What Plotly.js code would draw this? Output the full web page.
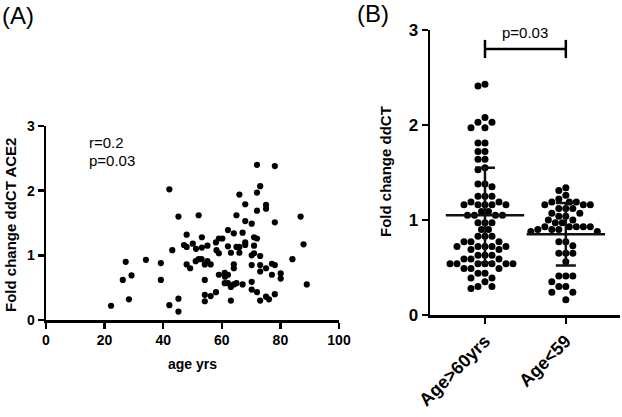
<!DOCTYPE html>
<html><head><meta charset="utf-8">
<script src="https://cdn.plot.ly/plotly-3.0.1.min.js"></script>
<style>html,body{margin:0;padding:0;background:#fff}#chart{width:622px;height:417px}</style>
</head><body><div id="chart"></div>
<script>
// ---- data ----
const ageYrs = [22.2,26.2,27.2,28.3,29.2,34.1,39.2,39.2,42.1,42.1,43.1,45.2,45.2,45.2,47.1,48.0,48.0,48.0,49.2,50.1,
  51.2,52.1,51.1,53.2,53.2,52.1,53.1,54.2,54.2,54.2,54.2,55.1,55.1,56.2,56.2,58.0,58.0,58.2,59.0,59.0,
  59.0,60.2,61.0,61.0,61.1,62.1,62.1,62.1,62.1,63.1,63.1,63.1,64.1,64.1,64.1,64.1,65.0,65.0,65.0,66.0,
  66.0,66.0,67.1,67.1,68.0,68.0,68.0,68.0,70.2,70.2,70.2,70.2,70.2,71.0,71.0,71.0,72.0,72.0,72.0,72.0,
  72.0,73.1,73.1,73.1,73.1,73.1,75.1,75.1,75.1,75.1,76.1,77.1,77.1,78.1,78.1,78.1,78.1,80.1,80.1,84.1,
  86.9,87.9,89.0];
const foldChangeACE2 = [0.22,0.62,0.90,0.32,0.69,0.93,0.88,0.62,2.02,0.23,1.08,1.60,0.33,0.13,1.16,1.32,1.13,0.86,0.80,1.18,
  1.10,1.62,0.91,1.28,1.12,0.94,0.94,0.86,0.62,0.39,0.29,1.15,0.91,0.86,0.37,0.43,1.20,1.08,1.26,1.03,
  0.70,1.26,0.73,0.57,0.67,1.39,1.14,0.70,0.57,1.04,0.51,0.30,1.34,0.86,0.80,0.55,1.62,1.13,0.57,1.94,
  1.13,1.04,1.35,0.55,1.79,1.53,1.20,1.16,1.49,1.00,0.85,0.59,0.47,1.28,1.15,1.03,2.40,1.97,1.69,1.26,
  0.43,2.07,0.99,0.85,0.75,0.30,1.78,1.72,0.80,0.36,0.32,0.87,0.70,2.38,1.51,0.85,0.40,0.72,0.64,0.94,
  1.60,1.17,0.55];
const corrLabels = ['r=0.2', 'p=0.03'];

const groupLabels = ['Age>60yrs', 'Age<59'];
const foldOver60 = [2.41,2.43,2.08,2.03,2.03,1.97,1.97,1.81,1.81,1.72,1.72,1.64,1.64,1.55,1.53,1.38,1.38,1.35,
  1.25,1.25,1.25,1.19,1.19,1.16,1.16,1.16,1.16,1.16,1.09,1.09,1.05,1.05,1.05,1.05,0.97,0.97,0.97,0.90,0.90,
  0.83,0.83,0.83,0.77,0.77,0.77,0.72,0.72,0.72,0.72,0.72,0.69,0.69,0.63,0.63,0.63,0.59,0.59,0.59,
  0.54,0.54,0.54,0.54,0.54,0.54,0.54,0.49,0.49,0.49,0.44,0.44,0.39,0.39,0.35,0.30,0.30,0.28];
const foldUnder59 = [1.34,1.31,1.26,1.22,1.19,1.19,1.19,1.16,1.16,1.16,1.12,1.12,1.12,1.07,1.07,1.04,1.04,
  1.00,1.00,0.97,0.97,0.93,0.93,0.93,0.93,0.93,0.90,0.90,0.90,0.88,0.88,0.77,0.77,0.73,0.65,0.65,0.65,
  0.56,0.41,0.41,0.41,0.35,0.30,0.30,0.24,0.24,0.16];
const groupMeans = [1.05, 0.85];
const groupSD = [0.50, 0.33];
const pValueText = 'p=0.03';
const bracketLevel = 2.8;

// ---- layout geometry ----
const W = 622, H = 417;
const px = v => v / W, py = v => 1 - v / H;
const FONT = 'Liberation Sans, Arial, Helvetica, sans-serif';
const bold = (s) => ({family: FONT, size: s, color: '#000', weight: 700});
const reg = (s) => ({family: FONT, size: s, color: '#000'});

const rightX = [430, 620], rightRange = [-0.68, 1.67];
const rightY = [30, 315];
const pxPerX2 = (rightX[1] - rightX[0]) / (rightRange[1] - rightRange[0]);
const pxPerY2 = (rightY[1] - rightY[0]) / 3;

// deterministic beeswarm offsets computed from the values
function swarm(values, center, diam) {
  const order = values.map((v, i) => i).sort((a, b) => values[b] - values[a]);
  const placed = [], xs = new Array(values.length);
  const step = diam / 2;
  const cands = [0];
  for (let j = 1; j < 40; j++) { cands.push(-j * step, j * step); }
  for (const i of order) {
    const yv = values[i] * pxPerY2;
    let off = 0;
    for (const c of cands) {
      if (placed.every(p => Math.hypot(p[0] - c, p[1] - yv) >= diam * 0.97)) { off = c; break; }
    }
    placed.push([off, yv]);
    xs[i] = center + off / pxPerX2;
  }
  return xs;
}
const DOT = 7;

const axisCommon = {
  showline: true, linecolor: '#000', linewidth: 2.5, ticks: 'outside', ticklen: 6,
  tickwidth: 2.5, tickcolor: '#000', showgrid: false, zeroline: false, fixedrange: true
};

const traces = [
  {x: ageYrs, y: foldChangeACE2, type: 'scatter', mode: 'markers', xaxis: 'x', yaxis: 'y',
   marker: {color: '#000', size: 6.2}, hoverinfo: 'skip', showlegend: false},
  {x: swarm(foldOver60, 0, DOT), y: foldOver60, type: 'scatter', mode: 'markers', xaxis: 'x2', yaxis: 'y2',
   marker: {color: '#000', size: DOT}, showlegend: false, cliponaxis: false},
  {x: swarm(foldUnder59, 1, DOT), y: foldUnder59, type: 'scatter', mode: 'markers', xaxis: 'x2', yaxis: 'y2',
   marker: {color: '#000', size: DOT}, showlegend: false, cliponaxis: false},
  {x: [0, 1], y: groupMeans, type: 'scatter', mode: 'markers', xaxis: 'x2', yaxis: 'y2',
   marker: {symbol: 'line-ew-open', size: 56, color: '#111', line: {width: 2.5, color: '#111'}},
   error_y: {type: 'data', array: groupSD, visible: true, width: 10, thickness: 2.5, color: '#111'},
   showlegend: false},
  {x: [0, 1], y: [bracketLevel, bracketLevel], type: 'scatter', mode: 'lines+markers', xaxis: 'x2', yaxis: 'y2',
   line: {color: '#000', width: 2.5},
   marker: {symbol: 'line-ns-open', size: 13, color: '#000', line: {width: 2.5, color: '#000'}},
   showlegend: false, cliponaxis: false}
];

const layout = {
  width: W, height: H, margin: {l: 0, r: 0, t: 0, b: 0},
  paper_bgcolor: '#fff', plot_bgcolor: '#fff', showlegend: false,
  font: reg(14),
  xaxis: Object.assign({}, axisCommon, {domain: [px(46), px(339)], range: [0, 100],
    tickvals: [0, 20, 40, 60, 80, 100], tickfont: bold(14), anchor: 'y'}),
  yaxis: Object.assign({}, axisCommon, {domain: [py(320), py(126)], range: [0, 3],
    tickvals: [0, 1, 2, 3], tickfont: bold(14), anchor: 'x'}),
  xaxis2: Object.assign({}, axisCommon, {domain: [px(rightX[0]), px(rightX[1])], range: rightRange,
    tickvals: [0, 1], ticktext: groupLabels, tickangle: -45, tickfont: bold(18), anchor: 'y2'}),
  yaxis2: Object.assign({}, axisCommon, {domain: [py(rightY[1]), py(rightY[0])], range: [0, 3],
    tickvals: [0, 1, 2, 3], tickfont: bold(17), anchor: 'x2'}),
  annotations: [
    {text: '(A)', xref: 'paper', yref: 'paper', x: px(0), y: py(15), xanchor: 'left', yanchor: 'middle',
     showarrow: false, font: reg(24)},
    {text: '(B)', xref: 'paper', yref: 'paper', x: px(391), y: py(13), xanchor: 'right', yanchor: 'middle',
     showarrow: false, font: reg(24)},
    {text: 'Fold change ddCT ACE2', xref: 'paper', yref: 'paper', x: px(10), y: py(225), textangle: -90,
     xanchor: 'center', yanchor: 'middle', showarrow: false, font: bold(15)},
    {text: 'age yrs', xref: 'paper', yref: 'paper', x: px(192.5), y: py(364), xanchor: 'center',
     yanchor: 'middle', showarrow: false, font: bold(14)},
    {text: 'Fold change ddCT', xref: 'paper', yref: 'paper', x: px(385), y: py(172), textangle: -90,
     xanchor: 'center', yanchor: 'middle', showarrow: false, font: bold(15)},
    {text: corrLabels[0], xref: 'paper', yref: 'paper', x: px(87), y: py(142), xanchor: 'left',
     yanchor: 'middle', showarrow: false, font: reg(15)},
    {text: corrLabels[1], xref: 'paper', yref: 'paper', x: px(87), y: py(160), xanchor: 'left',
     yanchor: 'middle', showarrow: false, font: reg(15)},
    {text: pValueText, xref: 'x2', yref: 'y2', x: 0.5, y: bracketLevel, xanchor: 'center',
     yanchor: 'bottom', yshift: 6, showarrow: false, font: reg(15)}
  ]
};

Plotly.newPlot('chart', traces, layout, {displayModeBar: false, staticPlot: true});
</script>
</body></html>
